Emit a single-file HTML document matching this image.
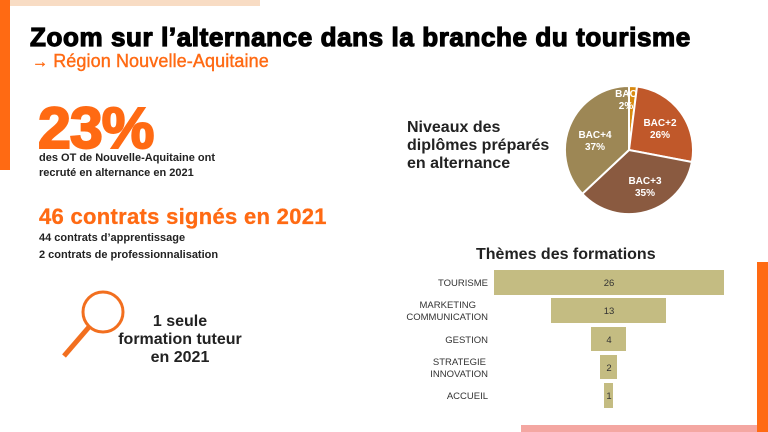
<!DOCTYPE html>
<html><head><meta charset="utf-8"><style>
body{margin:0;width:768px;height:432px;overflow:hidden;background:#fff;font-family:"Liberation Sans",Arial,sans-serif;position:relative}
.a{position:absolute;white-space:nowrap}
</style></head><body>
<div class="a" style="left:0;top:0;width:10px;height:170px;background:#ff6a13"></div>
<div class="a" style="left:10px;top:0;width:250px;height:6px;background:#f8dcc4"></div>
<div class="a" style="left:757px;top:262px;width:11px;height:170px;background:#ff6a13"></div>
<div class="a" style="left:521px;top:425px;width:236px;height:7px;background:#f4a7a2"></div>

<div class="a" style="left:30px;top:22px;font-size:26px;font-weight:900;letter-spacing:0.6px;-webkit-text-stroke:1.2px #000;color:#000">Zoom sur l’alternance dans la branche du tourisme</div>
<div class="a" style="left:32px;top:51px;font-size:18px;color:#ff6a13;letter-spacing:0.1px;-webkit-text-stroke:0.4px #ff6a13"><span style="font-size:16px">→</span> Région Nouvelle-Aquitaine</div>

<div class="a" style="left:38px;top:99px;font-size:58px;font-weight:bold;color:#ff6a13;-webkit-text-stroke:2px #ff6a13;letter-spacing:-1px;line-height:60px;transform:scaleX(1.02);transform-origin:left">23%</div>
<div class="a" style="left:39px;top:151px;font-size:11px;font-weight:bold;color:#222;line-height:15px">des OT de Nouvelle-Aquitaine ont<br>recruté en alternance en 2021</div>

<div class="a" style="left:39px;top:204px;font-size:22px;font-weight:bold;color:#ff6a13;letter-spacing:0.3px;-webkit-text-stroke:0.3px #ff6a13">46 contrats signés en 2021</div>
<div class="a" style="left:39px;top:232px;font-size:11px;font-weight:bold;color:#222">44 contrats d’apprentissage</div>
<div class="a" style="left:39px;top:249px;font-size:11px;font-weight:bold;color:#222">2 contrats de professionnalisation</div>

<svg class="a" style="left:0;top:0" width="768" height="432">
<circle cx="103" cy="312" r="20" fill="none" stroke="#f26f1f" stroke-width="3"/>
<line x1="89" y1="327" x2="64" y2="356" stroke="#f26f1f" stroke-width="5"/>
<g stroke="#fff" stroke-width="2">
<path d="M629,150 L629,86 A64,64 0 0 1 637,86.5 Z" fill="#d88a10"/>
<path d="M629,150 L637,86.5 A64,64 0 0 1 691.9,162 Z" fill="#c0582a"/>
<path d="M629,150 L691.9,162 A64,64 0 0 1 582.3,193.8 Z" fill="#8a5a40"/>
<path d="M629,150 L582.3,193.8 A64,64 0 0 1 629,86 Z" fill="#9d8755"/>
</g>
<g font-size="10" font-weight="bold" fill="#fff" text-anchor="middle" font-family="Liberation Sans,Arial,sans-serif">
<text x="626" y="97">BAC</text><text x="626" y="109">2%</text>
<text x="660" y="126">BAC+2</text><text x="660" y="138">26%</text>
<text x="645" y="184">BAC+3</text><text x="645" y="196">35%</text>
<text x="595" y="138">BAC+4</text><text x="595" y="150">37%</text>
</g>
<g fill="#c4bc82">
<rect x="494" y="270" width="230" height="25"/>
<rect x="551" y="298" width="115" height="25"/>
<rect x="591" y="327" width="35" height="24"/>
<rect x="600" y="355" width="17" height="24"/>
<rect x="604" y="383" width="9" height="25"/>
</g>
<g font-size="9.5" fill="#333" text-anchor="middle" font-family="Liberation Sans,Arial,sans-serif">
<text x="609" y="286">26</text><text x="609" y="314">13</text><text x="609" y="343">4</text><text x="609" y="371">2</text><text x="609" y="399">1</text>
</g>
<g font-size="9.5" fill="#333" text-anchor="end" font-family="Liberation Sans,Arial,sans-serif">
<text x="488" y="286">TOURISME</text>
<text x="476" y="308">MARKETING</text><text x="488" y="320">COMMUNICATION</text>
<text x="488" y="343">GESTION</text>
<text x="486" y="365">STRATEGIE</text><text x="488" y="377">INNOVATION</text>
<text x="488" y="399">ACCUEIL</text>
</g>
</svg>

<div class="a" style="left:118px;top:313px;width:124px;text-align:center;font-size:16px;font-weight:bold;color:#222;line-height:18px;white-space:normal">1 seule<br>formation tuteur<br>en 2021</div>
<div class="a" style="left:407px;top:119px;font-size:16px;font-weight:bold;color:#222;line-height:18px">Niveaux des<br>diplômes préparés<br>en alternance</div>
<div class="a" style="left:476px;top:246px;font-size:16px;font-weight:bold;color:#222">Thèmes des formations</div>
</body></html>
